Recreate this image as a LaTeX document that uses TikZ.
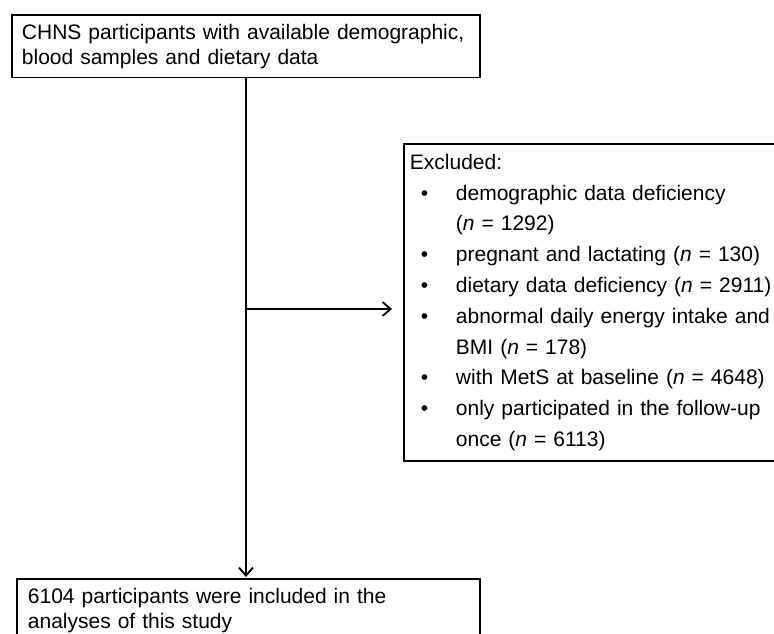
\documentclass[tikz,border=0pt]{standalone}
\usepackage{fontspec}
\setmainfont{Liberation Sans}
\usetikzlibrary{arrows.meta}
\newcommand{\itm}{\hspace*{11pt}\makebox[35pt][l]{\textbullet}}
\newcommand{\cnt}{\hspace*{46pt}}
\begin{document}
\begin{tikzpicture}[x=1pt,y=-1pt,
  box/.style={draw=black, line width=1.9pt, anchor=north west, align=left, inner ysep=9pt},
  arr/.style={line width=1.9pt, -{Straight Barb[length=8pt,width=14pt,line width=1.9pt]}}]
\useasboundingbox (0,0) rectangle (774,633);
\node[box, inner xsep=10pt, text width=448pt, font=\fontsize{21}{25}\selectfont] (top) at (11,14)
  {CHNS participants with available demographic,\\blood samples and dietary data};
\node[box, inner xsep=6pt, text width=388pt, minimum height=317pt, font=\fontsize{21}{30.8}\selectfont] (excl) at (403,143)
  {Excluded:\\
   \itm demographic data deficiency\\
   \cnt(\textit{n} = 1292)\\
   \itm pregnant and lactating (\textit{n} = 130)\\
   \itm dietary data deficiency (\textit{n} = 2911)\\
   \itm abnormal daily energy intake and\\
   \cnt BMI (\textit{n} = 178)\\
   \itm with MetS at baseline (\textit{n} = 4648)\\
   \itm only participated in the follow-up\\
   \cnt once (\textit{n} = 6113)};
\node[box, inner xsep=11pt, inner ysep=9pt, text width=441pt, font=\fontsize{21}{25}\selectfont] (bot) at (16,578)
  {6104 participants were included in the\\analyses of this study};
\coordinate (br) at (top.south |- 0,309);
\draw[arr, shorten >=1pt] (top.south) -- (top.south |- bot.north);
\draw[arr, shorten >=11pt] (br) -- (br -| excl.west);
\end{tikzpicture}
\end{document}
